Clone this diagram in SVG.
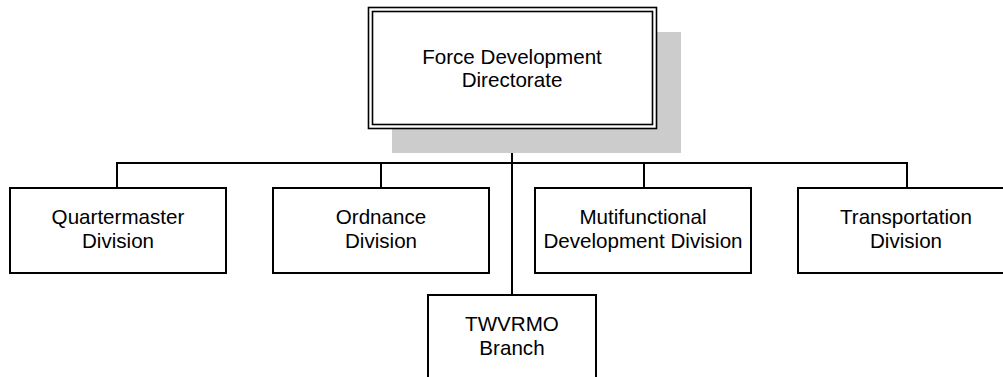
<svg xmlns="http://www.w3.org/2000/svg" width="1003" height="377" viewBox="0 0 1003 377">
<style>
.box{fill:#fff;stroke:#000;stroke-width:2}
.dbl{fill:none;stroke:#000;stroke-width:1.6}
.conn{fill:none;stroke:#000;stroke-width:2}
text{font-family:"Liberation Sans",Arial,sans-serif;font-size:20.6px;fill:#000;text-anchor:middle}
</style>
<rect width="1003" height="377" fill="#fff"/>
<g id="connectors">
<path class="conn" d="M117 188V163H907V188M381 163V188M644 163V188M512 128V296"/>
</g>
<g id="force-development-directorate">
<rect x="392" y="32" width="289" height="121" fill="#cccccc"/>
<rect x="368.5" y="7.5" width="288" height="121" fill="#fff" stroke="#000" stroke-width="1.6"/>
<rect class="dbl" x="372.5" y="11.5" width="280" height="113"/>
<text x="512" y="64">Force Development</text>
<text x="512" y="87">Directorate</text>
</g>
<g id="quartermaster-division">
<rect class="box" x="10" y="188" width="216" height="85"/>
<text x="118" y="224">Quartermaster</text>
<text x="118" y="248">Division</text>
</g>
<g id="ordnance-division">
<rect class="box" x="273" y="188" width="216" height="85"/>
<text x="381" y="224">Ordnance</text>
<text x="381" y="248">Division</text>
</g>
<g id="multifunctional-development-division">
<rect class="box" x="535" y="188" width="216" height="85"/>
<text x="643" y="224">Mutifunctional</text>
<text x="643" y="248">Development Division</text>
</g>
<g id="transportation-division">
<rect class="box" x="798" y="188" width="216" height="85"/>
<text x="906" y="224">Transportation</text>
<text x="906" y="248">Division</text>
</g>
<g id="twvrmo-branch">
<rect class="box" x="428" y="295" width="168" height="100"/>
<text x="512" y="331">TWVRMO</text>
<text x="512" y="355">Branch</text>
</g>
</svg>
